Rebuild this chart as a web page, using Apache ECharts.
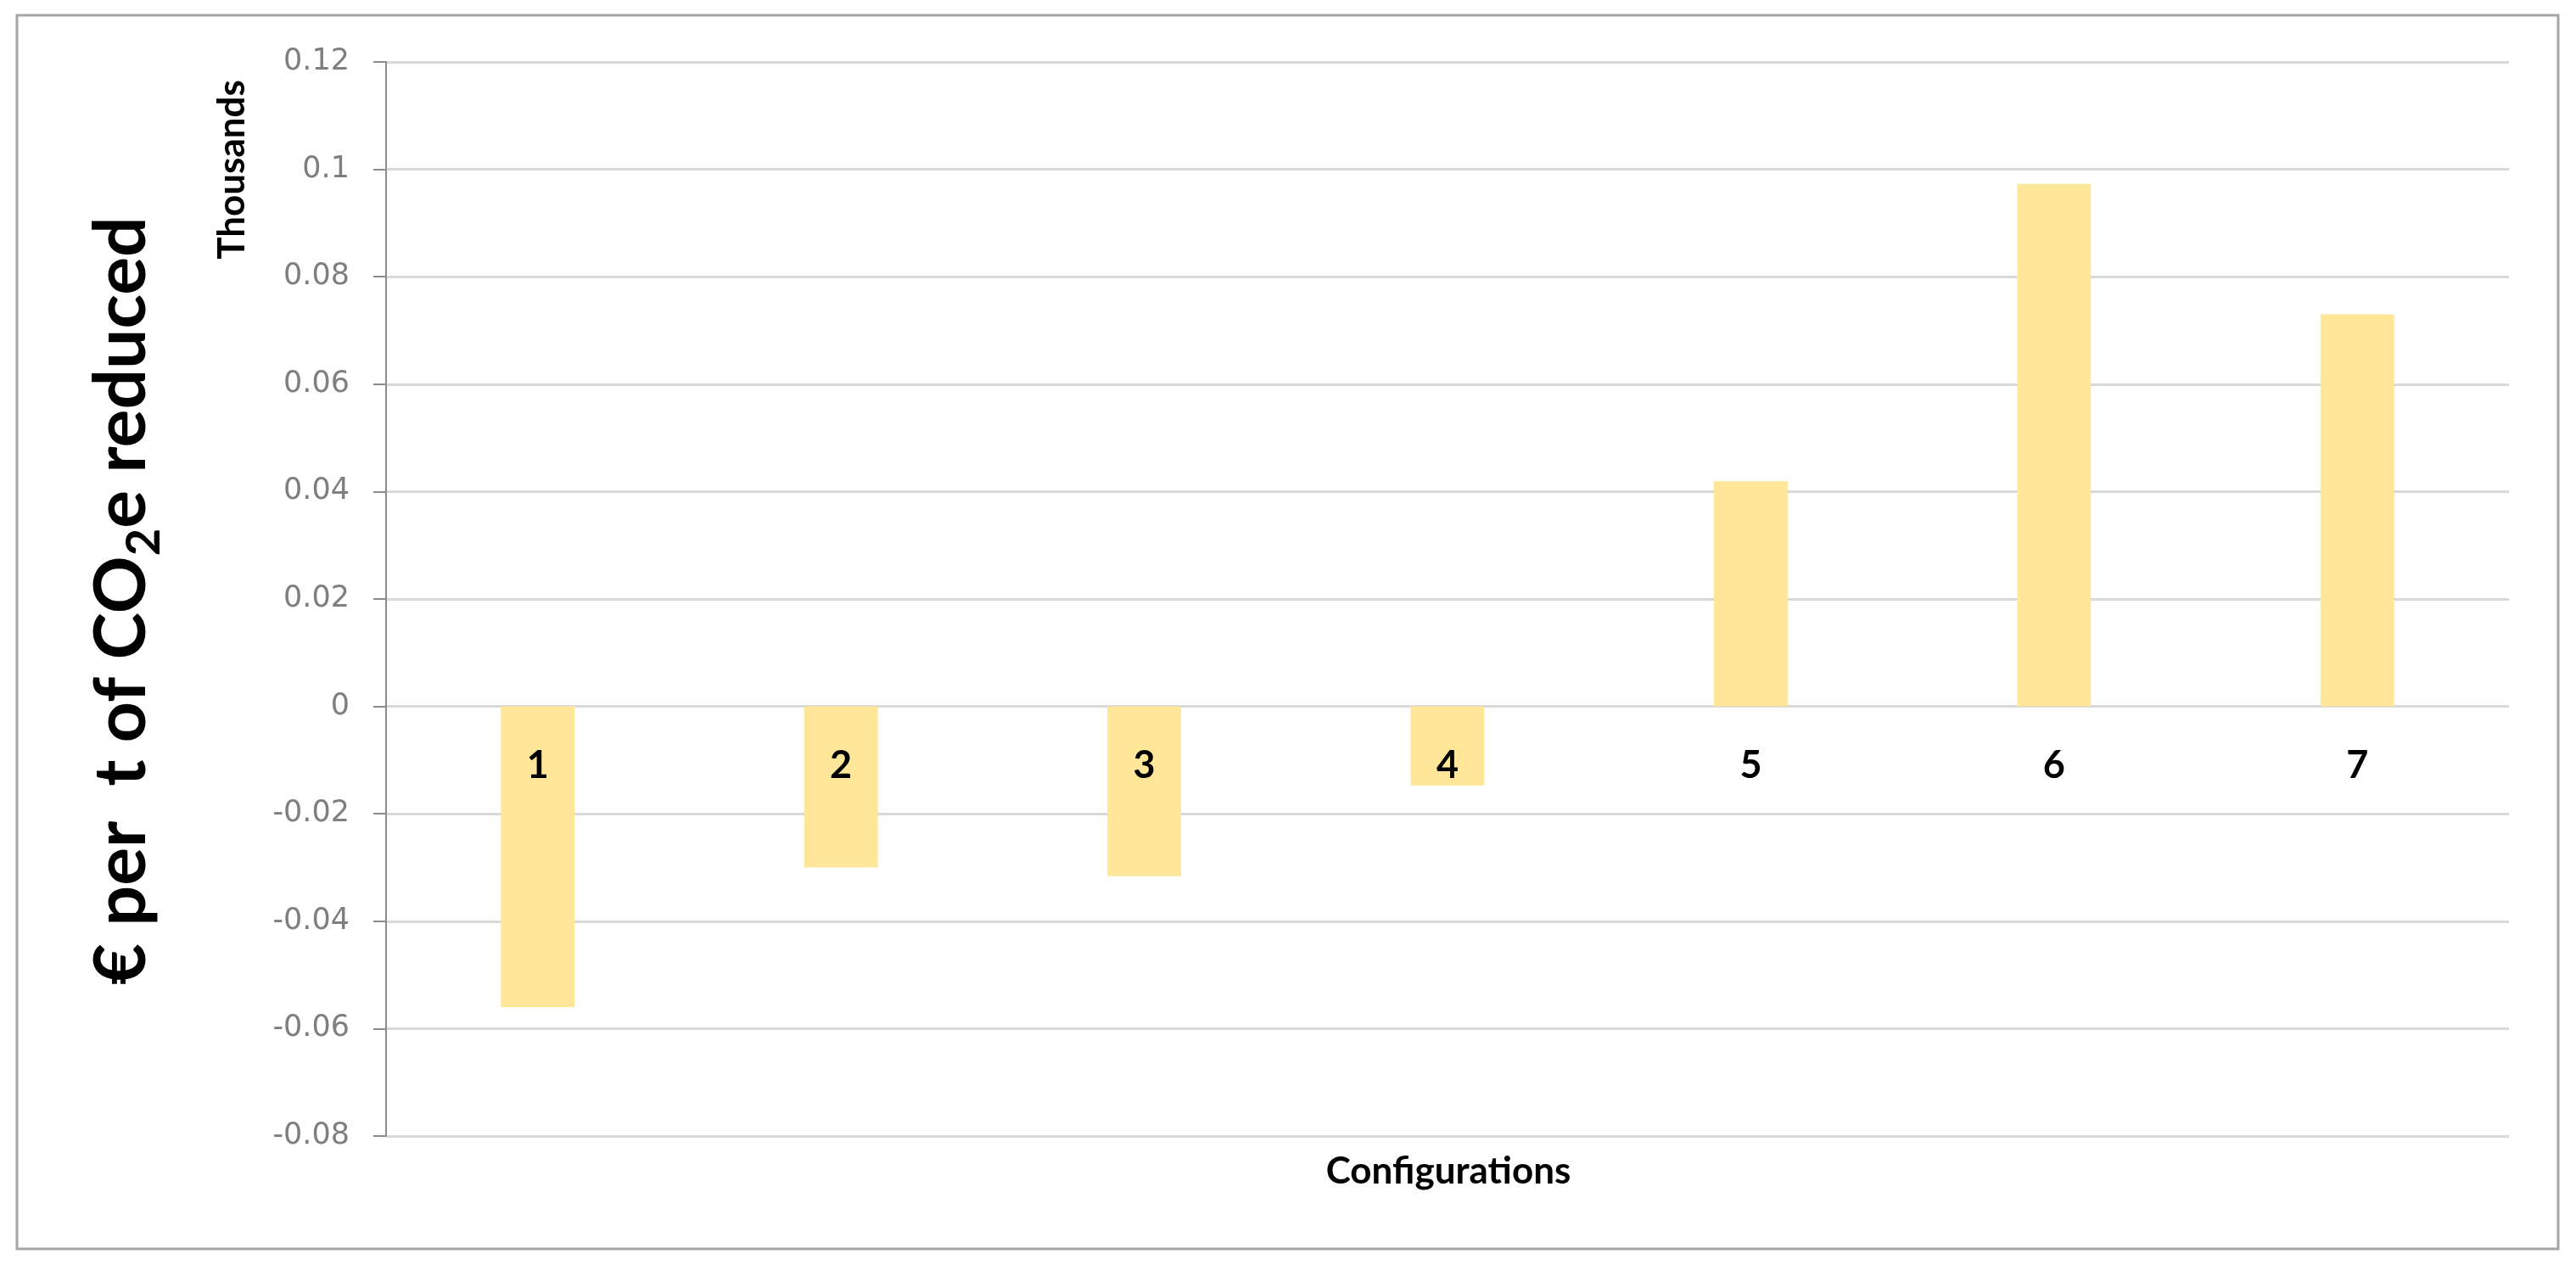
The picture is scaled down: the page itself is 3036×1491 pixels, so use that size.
<!DOCTYPE html>
<html>
<head>
<meta charset="utf-8">
<script src="https://cdn.jsdelivr.net/npm/echarts@6/dist/echarts.min.js"></script>
<style>
html,body{margin:0;padding:0;background:#fff;}
#chart{width:3036px;height:1491px;}
</style>
</head>
<body>
<div id="chart"></div>
<script>
// ---- data ----
const categories = ['1', '2', '3', '4', '5', '6', '7'];
const values = [-0.056, -0.030, -0.0316, -0.0147, 0.0419, 0.0973, 0.0730];
const yMin = -0.08;
const yMax = 0.12;
const yStep = 0.02;
const xTitle = 'Configurations';
const unitLabel = 'Thousands';

const chart = echarts.init(document.getElementById('chart'), null, {renderer: 'canvas'});
const option = {
  animation: false,
  backgroundColor: '#ffffff',
  grid: {left: 455, right: 79, top: 73, bottom: 152, containLabel: false},
  xAxis: {
    type: 'category',
    data: categories,
    axisLine: {show: false},
    axisTick: {show: false},
    axisLabel: {show: false},
    splitLine: {show: false}
  },
  yAxis: {
    type: 'value',
    min: yMin,
    max: yMax,
    interval: yStep,
    axisLine: {show: true, lineStyle: {color: '#8c8c8c', width: 2}},
    axisTick: {show: true, inside: false, length: 15, lineStyle: {color: '#8c8c8c', width: 2}},
    axisLabel: {
      margin: 43,
      fontFamily: 'DejaVu Sans',
      fontSize: 35,
      color: '#7f7f7f',
      formatter: function (v) { return String(Math.round(v * 100) / 100); }
    },
    splitLine: {show: true, lineStyle: {color: '#d9d9d9', width: 3}}
  },
  series: [
    {
      type: 'bar',
      data: values,
      barWidth: '24.3%',
      itemStyle: {color: '#FFE699'},
      z: 2
    },
    {
      // category labels sitting just below the zero line (axis on zero)
      type: 'scatter',
      data: categories.map(function () { return 0; }),
      symbolSize: 0,
      silent: true,
      z: 5,
      itemStyle: {opacity: 1, color: '#000000'},
      label: {
        show: true,
        position: 'bottom',
        distance: 47,
        formatter: function (p) { return p.name; },
        fontFamily: 'Lato',
        fontWeight: 'bold',
        fontSize: 45,
        lineHeight: 45,
        color: '#000000',
        opacity: 1
      }
    }
  ],
  graphic: [
    {
      type: 'rect',
      z: -1,
      shape: {x: 20, y: 18, width: 2995, height: 1454},
      style: {fill: 'none', stroke: '#a6a6a6', lineWidth: 3}
    },
    {
      type: 'text',
      x: 1707, y: 1381,
      style: {
        text: xTitle,
        font: 'bold 44px Lato',
        fill: '#000000',
        align: 'center',
        verticalAlign: 'middle'
      }
    },
    {
      type: 'text',
      x: 274, y: 200,
      rotation: Math.PI / 2,
      style: {
        text: unitLabel,
        font: 'bold 44px Lato',
        fill: '#000000',
        align: 'center',
        verticalAlign: 'middle'
      }
    },
    {
      type: 'text',
      x: 148, y: 708,
      rotation: Math.PI / 2,
      style: {
        text: '{a|€ per  t of CO}{s|2}{a|e reduced}',
        fill: '#000000',
        align: 'center',
        verticalAlign: 'middle',
        rich: {
          a: {fontFamily: 'Lato', fontWeight: 'bold', fontSize: 84, lineHeight: 100, verticalAlign: 'bottom', padding: [0, 0, 12, 0], fill: '#000000'},
          s: {fontFamily: 'Lato', fontWeight: 'bold', fontSize: 56, lineHeight: 60, verticalAlign: 'bottom', fill: '#000000'}
        }
      }
    }
  ]
};
chart.setOption(option);
</script>
</body>
</html>
